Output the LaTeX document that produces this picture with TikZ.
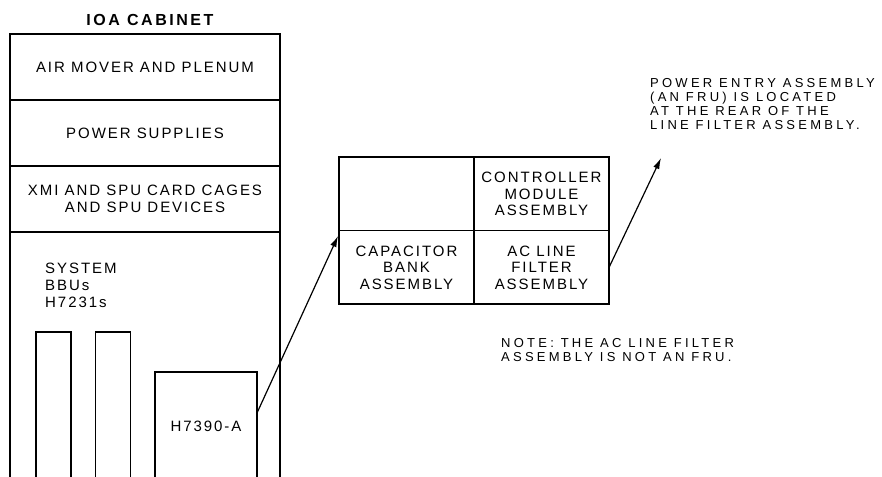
\documentclass[tikz,border=0pt]{standalone}
\usepackage{fontspec}
\setmainfont{Liberation Sans}
\newfontfamily\labelfont[LetterSpace=13]{Liberation Sans}
\newfontfamily\titlefont[LetterSpace=16]{Liberation Sans}
\newfontfamily\callfont[LetterSpace=25]{Liberation Sans}
\newfontfamily\notefont[LetterSpace=25]{Liberation Sans}
\usetikzlibrary{positioning,arrows.meta}
\tikzset{
  txt/.style  = {font=\labelfont\fontsize{15}{16.5}\selectfont, align=center, inner sep=0pt},
  note/.style = {font=\callfont\fontsize{13}{14}\selectfont, align=left, inner sep=0pt, anchor=north west},
  section/.style = {draw, line width=1.5pt, minimum width=270pt, minimum height=66pt,
    outer sep=0pt, txt},
  cell/.style = {draw, line width=1.4pt, minimum width=135pt, minimum height=73.5pt,
    outer sep=0pt, txt},
  bar/.style  = {draw, line width=1.5pt, minimum width=35pt, minimum height=160pt,
    outer sep=0pt, anchor=north},
  lead/.style = {line width=1.2pt, -{Latex[length=11pt,width=6.5pt]}}
}

\begin{document}
\begin{tikzpicture}[x=1pt,y=-1pt]
\useasboundingbox (0,0) rectangle (882,476);

% IOA cabinet
\node[txt, font=\titlefont\bfseries\fontsize{16}{16}\selectfont] (title) at (150,20) {IOA CABINET};
\node[section] (air) at (145,67) {AIR MOVER AND PLENUM};
\node[section, below=0pt of air] (psu) {POWER SUPPLIES};
\node[section, below=0pt of psu] (cage) {XMI AND SPU CARD CAGES\\AND SPU DEVICES};
\draw[line width=2.4pt] (10,480) -- (10,34) -- (280,34) -- (280,480);
\node[note, font=\labelfont\fontsize{15}{17}\selectfont] (bbu) at (45,263) {SYSTEM\\BBUs\\H7231s};
\node[bar] (bbuA) at (53.5,332) {};
\node[bar] (bbuB) at (113,332) {};
\node[draw, line width=1.5pt, minimum width=102pt, minimum height=108pt, outer sep=0pt,
  txt] (h7390) at (206,426) {H7390-A};

% line filter assembly
\node[cell] (ctrl) at (541.5,194) {CONTROLLER\\MODULE\\ASSEMBLY};
\node[cell, left=0pt of ctrl] (blank) {};
\node[cell, below=0pt of ctrl] (acf) {AC LINE\\FILTER\\ASSEMBLY};
\node[cell, left=0pt of acf] (cap) {CAPACITOR\\BANK\\ASSEMBLY};
\draw[line width=2.4pt] (blank.north west) rectangle (acf.south east);

% callouts
\node[note] (entry) at (650,78) {POWER ENTRY ASSEMBLY\\(AN FRU) IS LOCATED\\AT THE REAR OF THE\\LINE FILTER ASSEMBLY.};
\coordinate (entrytip) at (661,158);
\coordinate (captip) at (338,236);
\node[note, font=\notefont\fontsize{13}{14}\selectfont] (fru) at (501,338) {NOTE: THE AC LINE FILTER\\ASSEMBLY IS NOT AN FRU.};

\draw[lead] ([yshift=13pt]h7390.east) -- (captip);
\draw[lead] (acf.east) -- (entrytip);
\end{tikzpicture}
\end{document}
